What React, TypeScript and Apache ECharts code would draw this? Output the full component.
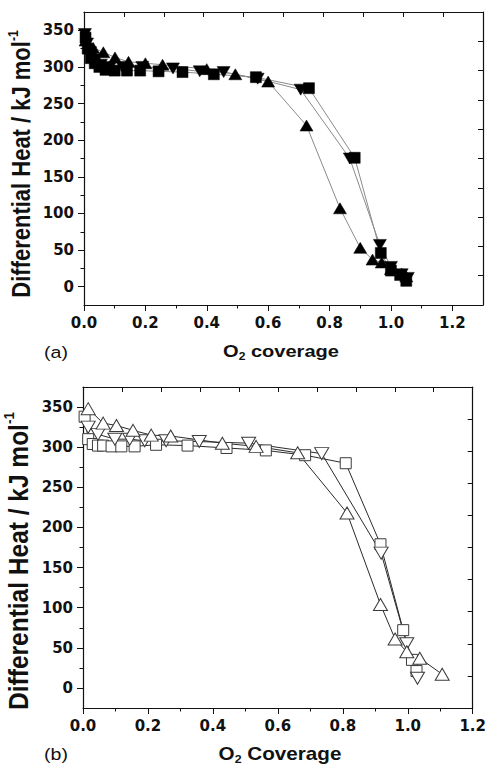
import React, { useEffect, useRef } from "react";
import * as echarts from "echarts";

// Panel (a): filled symbols
const sqA: number[][] = [[0.005,340],[0.012,325],[0.022,312],[0.035,305],[0.05,300],[0.07,296],[0.1,295],[0.14,295],[0.183,295],[0.243,294],[0.321,293],[0.423,290],[0.56,286],[0.733,271],[0.882,176],[0.967,46],[1.0,22],[1.03,16],[1.05,8]];
const dnA: number[][] = [[0.003,345],[0.01,332],[0.02,320],[0.035,310],[0.055,303],[0.085,300],[0.125,300],[0.19,300],[0.29,298],[0.377,294],[0.455,293],[0.566,284],[0.706,269],[0.866,175],[0.964,57],[1.0,27],[1.035,17],[1.055,12]];
const upA: number[][] = [[0.005,336],[0.03,326],[0.063,320],[0.101,313],[0.145,307],[0.2,305],[0.256,303],[0.4,297],[0.493,290],[0.6,280],[0.725,220],[0.834,107],[0.9,53],[0.94,37],[0.97,33],[1.0,24],[1.035,18],[1.05,14]];

// Panel (b): open symbols
const sqB: number[][] = [[0.005,338],[0.016,310],[0.03,304],[0.046,302],[0.062,302],[0.088,301],[0.118,301],[0.159,301],[0.225,303],[0.322,302],[0.442,299],[0.563,296],[0.684,290],[0.809,280],[0.916,179],[0.986,72],[1.013,35],[1.027,21]];
const dnB: number[][] = [[0.016,325],[0.046,316],[0.098,310],[0.144,310],[0.19,308],[0.256,308],[0.358,307],[0.51,305],[0.735,292],[0.918,168],[0.997,55],[1.03,12]];
const upB: number[][] = [[0.016,348],[0.062,330],[0.103,327],[0.154,321],[0.21,315],[0.27,314],[0.429,305],[0.533,301],[0.661,293],[0.813,218],[0.916,104],[0.961,61],[0.997,45],[1.037,37],[1.106,17]];

// Tick values
const yMajor = [0, 50, 100, 150, 200, 250, 300, 350];
const yMinor = [25, 75, 125, 175, 225, 275, 325];
const xMajor = [0, 0.2, 0.4, 0.6, 0.8, 1.0, 1.2];
const xMinor = [0.1, 0.3, 0.5, 0.7, 0.9, 1.1];

const TICK_FONT = "DejaVu Sans";
const TITLE_FONT = "Liberation Sans, Arial, sans-serif";

export default function App() {
  const ref = useRef<HTMLDivElement>(null);
  useEffect(() => {
    if (!ref.current) return;
    const chart = echarts.init(ref.current, undefined, { renderer: "svg" });
    const line = { lineStyle: { color: "#111", width: 1.2 } };
    const lbl = { fontFamily: TICK_FONT, fontWeight: "bold" as const, fontSize: 15, color: "#111" };

    const mkX = (grid: number, max: number) => [
      {
        type: "value", gridIndex: grid, position: "bottom", min: 0, max,
        axisLine: { show: true, onZero: false, ...line },
        axisTick: { show: true, inside: false, length: 6, customValues: xMajor, lineStyle: { color: "#111" } },
        axisLabel: { show: true, customValues: xMajor, margin: 10, formatter: (v: number) => v.toFixed(1), ...lbl },
        splitLine: { show: false },
      },
      {
        type: "value", gridIndex: grid, position: "bottom", min: 0, max,
        axisLine: { show: false, onZero: false },
        axisTick: { show: true, inside: false, length: 3.5, customValues: xMinor, lineStyle: { color: "#111" } },
        axisLabel: { show: false },
        splitLine: { show: false },
      },
      {
        type: "value", gridIndex: grid, position: "top", min: 0, max: 10, interval: 1,
        axisLine: { show: true, onZero: false, ...line },
        axisTick: { show: true, inside: true, length: 5, lineStyle: { color: "#111" } },
        axisLabel: { show: false },
        splitLine: { show: false },
      },
    ];
    const mkY = (grid: number) => [
      {
        type: "value", gridIndex: grid, position: "left", min: -25, max: 375,
        axisLine: { show: true, onZero: false, ...line },
        axisTick: { show: true, inside: false, length: 6, customValues: yMajor, lineStyle: { color: "#111" } },
        axisLabel: { show: true, customValues: yMajor, margin: 10, ...lbl },
        splitLine: { show: false },
      },
      {
        type: "value", gridIndex: grid, position: "left", min: -25, max: 375,
        axisLine: { show: false, onZero: false },
        axisTick: { show: true, inside: false, length: 3.5, customValues: yMinor, lineStyle: { color: "#111" } },
        axisLabel: { show: false },
        splitLine: { show: false },
      },
      {
        type: "value", gridIndex: grid, position: "right", min: 0, max: 10, interval: 1,
        axisLine: { show: true, onZero: false, ...line },
        axisTick: { show: true, inside: true, length: 5, lineStyle: { color: "#111" } },
        axisLabel: { show: false },
        splitLine: { show: false },
      },
    ];

    const filled = (data: number[][], symbol: string, size: any, rot = 0) => ({
      type: "line", xAxisIndex: 0, yAxisIndex: 0, data, symbol, symbolSize: size, symbolRotate: rot,
      showAllSymbol: true,
      lineStyle: { color: "#8a8a8a", width: 1 },
      itemStyle: { color: "#000", borderColor: "#000", borderWidth: 0.5 },
      z: 3,
    });
    const open = (data: number[][], symbol: string, size: any, rot = 0) => ({
      type: "line", xAxisIndex: 3, yAxisIndex: 3, data, symbol, symbolSize: size, symbolRotate: rot,
      showAllSymbol: true,
      lineStyle: { color: "#2a2a2a", width: 1 },
      itemStyle: { color: "#fff", borderColor: "#3a3a3a", borderWidth: 1 },
      z: 3,
    });

    const yTitle = (x: number, y: number, fs: number) => ({
      type: "text", x, y, rotation: Math.PI / 2, scaleY: 1.15,
      style: {
        text: "{m|Differential Heat / kJ mol}{s|-1}",
        align: "center", verticalAlign: "middle", fill: "#111",
        rich: {
          m: { fontFamily: TITLE_FONT, fontWeight: "bold", fontSize: fs, lineHeight: fs * 1.2, fill: "#111" },
          s: { fontFamily: TITLE_FONT, fontWeight: "bold", fontSize: fs * 0.55, lineHeight: fs * 1.2, verticalAlign: "top", fill: "#111" },
        },
      },
    });
    const xTitle = (x: number, y: number, word: string, fs: number) => ({
      type: "text", x, y, scaleX: 1.18,
      style: {
        text: `{m|O}{s|2}{m| ${word}}`,
        align: "center", verticalAlign: "middle", fill: "#111",
        rich: {
          m: { fontFamily: TITLE_FONT, fontWeight: "bold", fontSize: fs, lineHeight: fs * 1.2, fill: "#111" },
          s: { fontFamily: TITLE_FONT, fontWeight: "bold", fontSize: fs * 0.6, lineHeight: fs * 1.2, verticalAlign: "bottom", fill: "#111" },
        },
      },
    });
    const tag = (x: number, y: number, t: string) => ({
      type: "text", x, y, scaleX: 1.15,
      style: { text: t, align: "center", verticalAlign: "middle", fontFamily: TITLE_FONT, fontSize: 17, fill: "#111" },
    });

    chart.setOption({
      animation: false,
      backgroundColor: "#fff",
      grid: [
        { left: 84, top: 12, width: 399, height: 293, containLabel: false },
        { left: 83, top: 387, width: 393, height: 321, containLabel: false },
      ],
      xAxis: [...mkX(0, 1.3), ...mkX(1, 1.2)],
      yAxis: [...mkY(0), ...mkY(1)],
      series: [
        filled(sqA, "rect", 11),
        filled(dnA, "triangle", [13, 11], 180),
        filled(upA, "triangle", [13, 11]),
        open(sqB, "rect", 11),
        open(dnB, "triangle", [14, 12], 180),
        open(upB, "triangle", [14, 12]),
      ],
      graphic: [
        yTitle(21, 164, 22),
        yTitle(18, 561, 24.5),
        xTitle(281, 351, "coverage", 17),
        xTitle(280, 754, "Coverage", 17.5),
        tag(56, 352, "(a)"),
        tag(56, 754, "(b)"),
      ],
    });
    return () => chart.dispose();
  }, []);
  return (
    <div
      ref={ref}
      style={{ position: "fixed", left: 0, top: 0, width: 489, height: 765, background: "#fff" }}
    />
  );
}
